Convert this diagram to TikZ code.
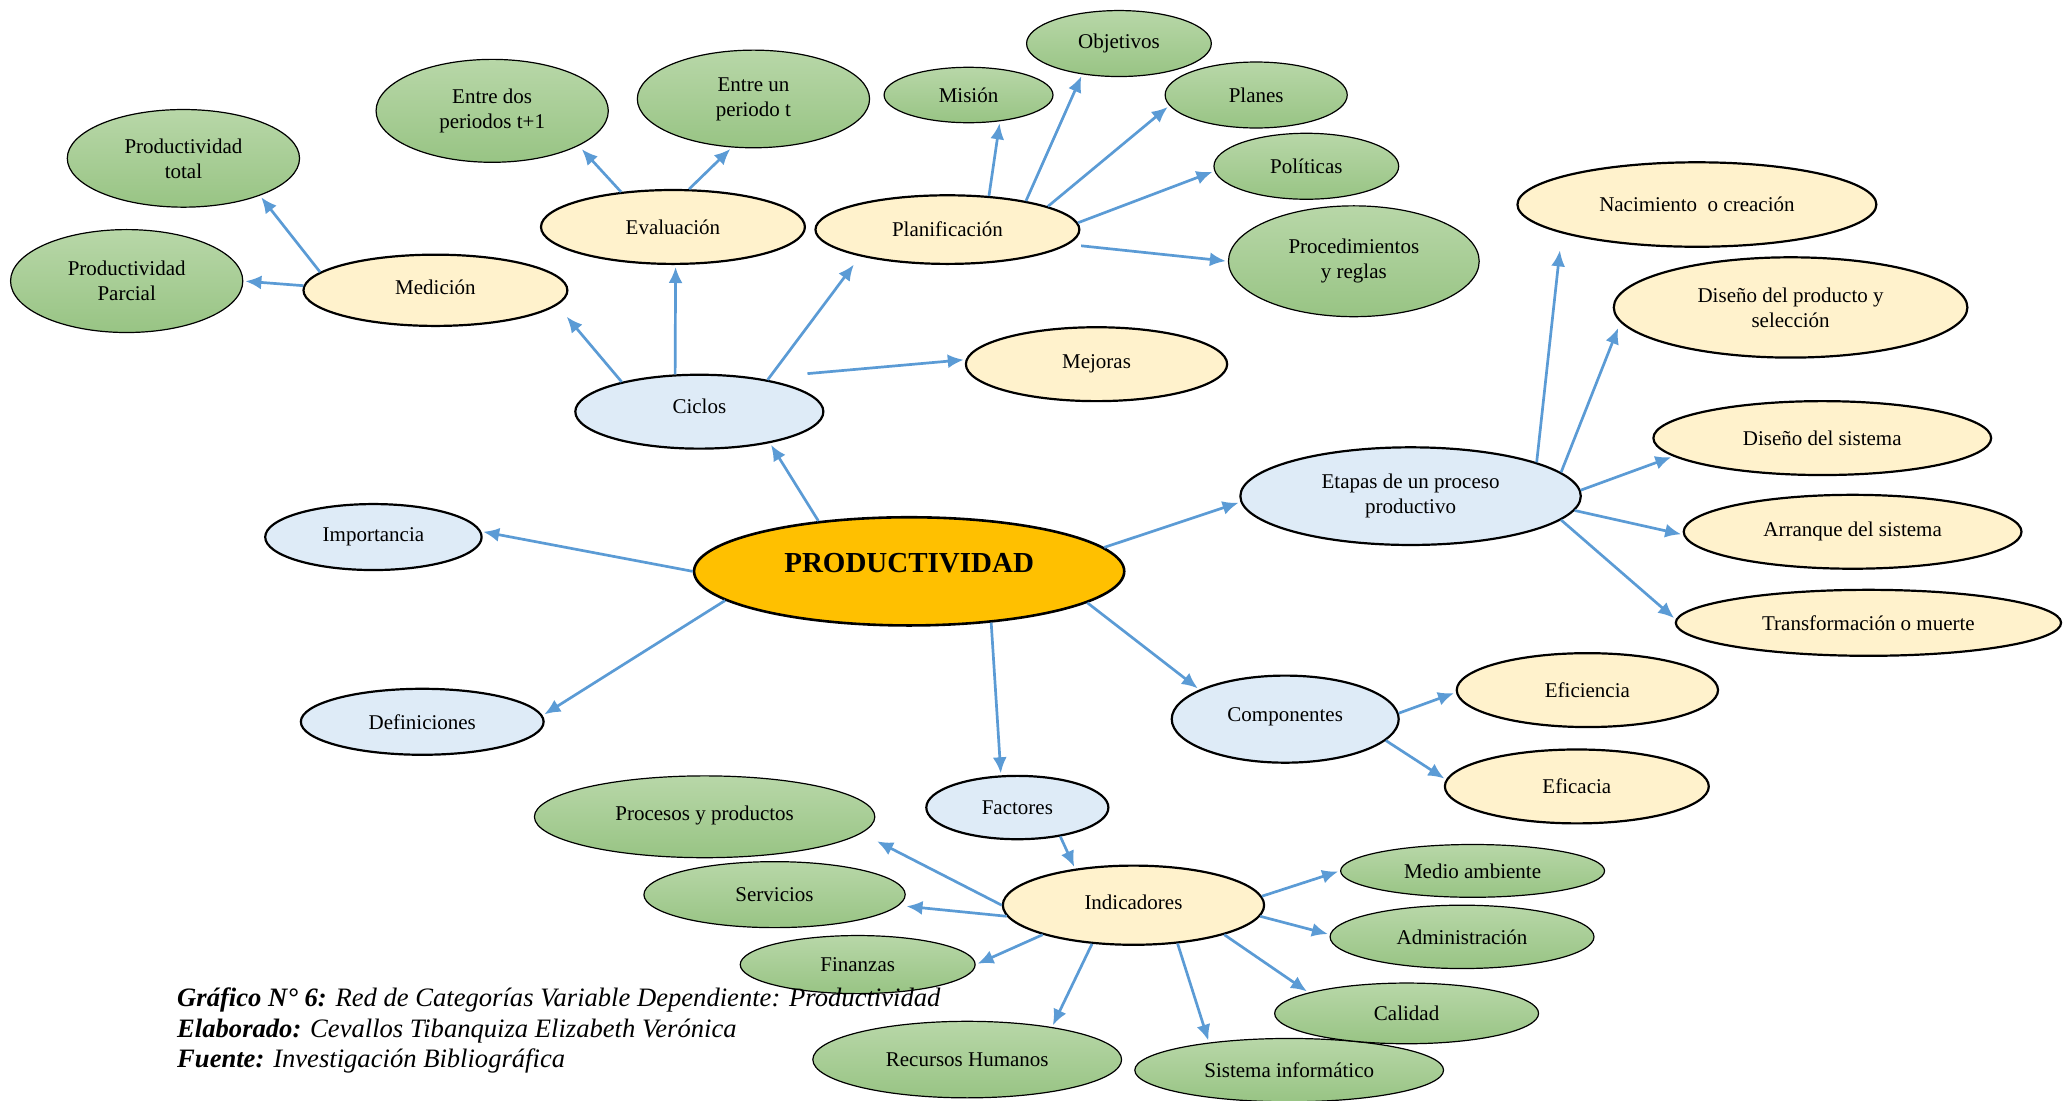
\documentclass[tikz,border=0pt]{standalone}
\usepackage{fontspec}
\setmainfont{Liberation Serif}
\usetikzlibrary{shapes.geometric,arrows.meta}
\definecolor{mainyel}{HTML}{FFC000}
\definecolor{paleyel}{HTML}{FFF2CC}
\definecolor{paleblue}{HTML}{DEEBF7}
\definecolor{gtop}{RGB}{184,215,168}
\definecolor{gbot}{RGB}{152,196,132}
\definecolor{arrblue}{HTML}{5B9BD5}

\begin{document}
\begin{tikzpicture}[x=0.65975pt,y=-0.65975pt,
oval/.style 2 args={ellipse,inner sep=0pt,align=center,minimum width=#1*0.65975pt,minimum height=#2*0.65975pt,font=\fontsize{10.5}{12.5}\selectfont},
blu/.style={draw=black,line width=1.1pt,fill=paleblue},
yel/.style={draw=black,line width=1.1pt,fill=paleyel},
grn/.style={draw=black,line width=0.6pt,top color=gtop,bottom color=gbot},
arr/.style={draw=arrblue,line width=1.35pt,-{Latex[length=8pt,width=7pt]},shorten >=1pt}]
\useasboundingbox (0,0) rectangle (1568,834);

\node at (689,433)[oval={326}{82},draw=black,line width=1.3pt,fill=mainyel,font=\bfseries\fontsize{14.5}{17}\selectfont](pr){\raisebox{8pt}{PRODUCTIVIDAD}};

\node at (530,312)[oval={188}{56},blu](ci){\raisebox{5pt}{Ciclos}};
\node at (330,220)[oval={200}{54},yel](me){\raisebox{3pt}{Medición}};
\node at (510,172)[oval={200}{56},yel](ev){Evaluación};
\node at (718,174)[oval={200}{52},yel](pl){Planificación};
\node at (831,276)[oval={198}{56},yel](mj){Mejoras};
\node at (139,120)[oval={176}{74},grn](pt){Productividad\\total};
\node at (96,213)[oval={176}{78},grn](pp){Productividad\\Parcial};
\node at (373,84)[oval={176}{78},grn](ed){Entre dos\\periodos t+1};
\node at (571,75)[oval={176}{74},grn](eu){Entre un\\periodo t};
\node at (734,72)[oval={128}{42},grn](mi){Misión};
\node at (848,33)[oval={140}{50},grn](ob){Objetivos};
\node at (952,72)[oval={138}{50},grn](pn){Planes};
\node at (990,126)[oval={140}{50},grn](po){Políticas};
\node at (1026,198)[oval={190}{84},grn](pc){Procedimientos\\y reglas};

\node at (283,407)[oval={164}{50},blu](im){Importancia};
\node at (320,547)[oval={184}{50},blu](de){Definiciones};

\node at (1069,376)[oval={258}{74},blu](et){Etapas de un proceso\\productivo};
\node at (1286,155)[oval={272}{64},yel](na){Nacimiento~ o creación};
\node at (1357,233)[oval={268}{76},yel](dp){Diseño del producto y\\selección};
\node at (1381,332)[oval={256}{56},yel](ds){Diseño del sistema};
\node at (1404,403)[oval={256}{56},yel](ar){Arranque del sistema};
\node at (1416,472)[oval={292}{50},yel](tr){Transformación o muerte};

\node at (974,545)[oval={172}{66},blu](co){\raisebox{5pt}{Componentes}};
\node at (1203,523)[oval={198}{56},yel](ef){Eficiencia};
\node at (1195,596)[oval={200}{56},yel](ec){Eficacia};

\node at (771,612)[oval={138}{48},blu](fa){Factores};
\node at (859,686)[oval={198}{60},yel](in){\raisebox{3pt}{Indicadores}};
\node at (534,619)[oval={258}{62},grn](pyp){\raisebox{4pt}{Procesos y productos}};
\node at (587,678)[oval={198}{50},grn](se){Servicios};
\node at (650,731)[oval={178}{44},grn](fi){Finanzas};
\node at (733,803)[oval={234}{58},grn](rh){Recursos Humanos};
\node at (977,811)[oval={234}{48},grn](si){Sistema informático};
\node at (1066,768)[oval={200}{46},grn](ca){Calidad};
\node at (1108,710)[oval={200}{48},grn](ad){Administración};
\node at (1116,660)[oval={200}{40},grn](ma){Medio ambiente};

\draw[arr] (pr.151) -- (ci.-24);
\draw[arr,shorten >=7.5pt] (ci.159) -- (me.-7);
\draw[arr] (ci.123) -- (ev.-86);
\draw[arr,shorten >=5.2pt] (ci.25) -- (pl.-163);
\draw[arr,shorten <=25pt] (ci.30) -- (mj.178);
\draw[arr] (me.171) -- (pt.-26);
\draw[arr] (me.178) -- (pp.0);
\draw[arr,shorten >=2.3pt] (ev.146) -- (ed.-22);
\draw[arr] (ev.67) -- (eu.-114);
\draw[arr] (pl.39) -- (mi.-40);
\draw[arr] (pl.20) -- (ob.-140);
\draw[arr] (pl.13) -- (pn.-173);
\draw[arr] (pl.3) -- (po.-177);
\draw[arr,shorten <=6.5pt] (pl.-7) -- (pc.180);
\draw[arr] (pr.180) -- (im.3);
\draw[arr] (pr.-171) -- (de.3);
\draw[arr] (pr.7) -- (et.-178);
\draw[arr,shorten >=8.6pt] (et.15) -- (na.-168);
\draw[arr,shorten >=3pt] (et.9) -- (dp.-175);
\draw[arr] (et.2) -- (ds.-173);
\draw[arr] (et.-5) -- (ar.-179);
\draw[arr] (et.-9) -- (tr.179);
\draw[arr] (pr.-10) -- (co.161);
\draw[arr] (co.3) -- (ef.-179);
\draw[arr] (co.-12) -- (ec.177);
\draw[arr] (pr.-32) -- (fa.117);
\draw[arr] (fa.-34) -- (in.148);
\draw[arr,shorten >=8.8pt] (in.180) -- (pyp.-6);
\draw[arr,shorten >=3.9pt] (in.-175) -- (se.-5);
\draw[arr] (in.-162) -- (fi.0);
\draw[arr] (in.-137) -- (rh.21);
\draw[arr] (in.-41) -- (si.161);
\draw[arr] (in.-18) -- (ca.168);
\draw[arr] (in.-5) -- (ad.179);
\draw[arr] (in.4) -- (ma.180);

\node at (134,781)[anchor=west,align=left,inner sep=0pt,font=\itshape\fontsize{13.3}{15.2}\selectfont](cap){\textbf{Gráfico N° 6:} Red de Categorías Variable Dependiente: Productividad\\\textbf{Elaborado:} Cevallos Tibanquiza Elizabeth Verónica\\\textbf{Fuente:} Investigación Bibliográfica};
\end{tikzpicture}
\end{document}
